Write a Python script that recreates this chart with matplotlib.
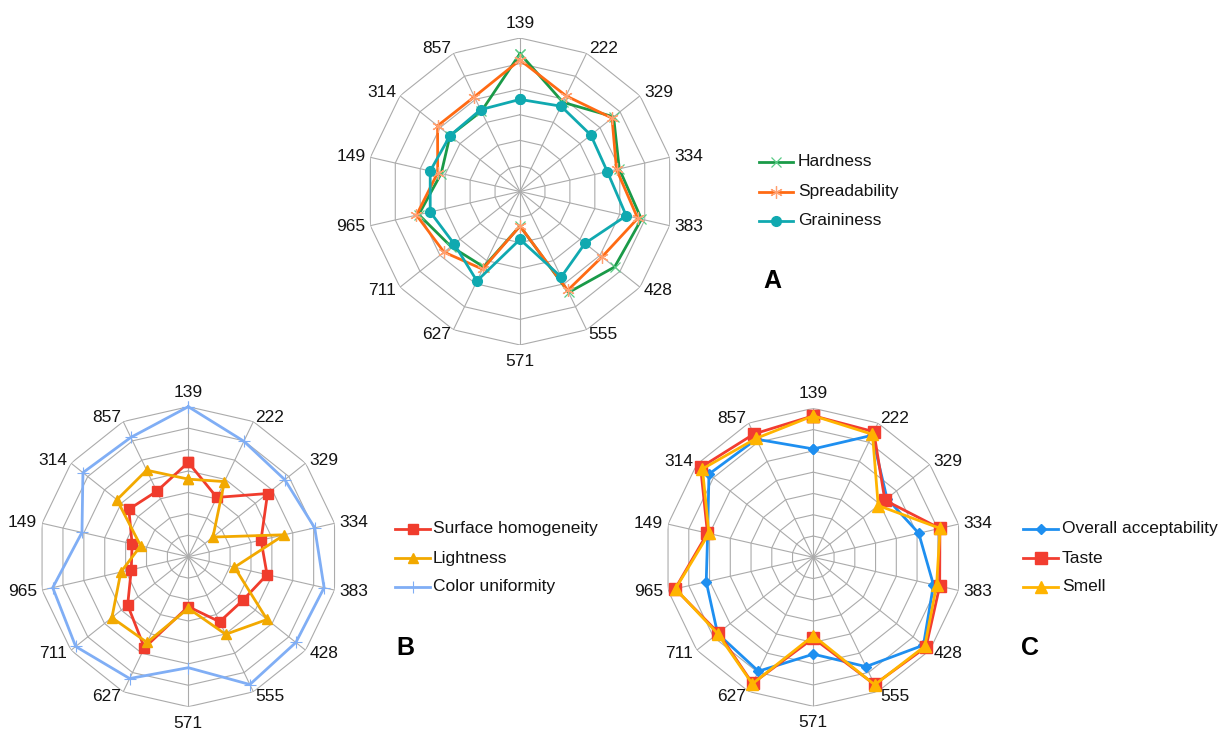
import numpy as np
import matplotlib
matplotlib.use("Agg")
import matplotlib.pyplot as plt
from matplotlib.lines import Line2D

plt.rcParams['font.family'] = ['Liberation Sans', 'DejaVu Sans']

categories = ['139', '222', '329', '334', '383', '428', '555', '571',
              '627', '711', '965', '149', '314', '857']

# Panel A
hardness = [5.39, 3.87, 4.68, 3.98, 4.87, 4.73, 4.38, 1.35, 3.27, 3.45, 4.06, 3.16, 3.50, 3.48]
spreadability = [5.14, 4.15, 4.60, 3.87, 4.72, 4.10, 4.29, 1.35, 3.37, 3.80, 4.15, 3.30, 4.12, 4.11]
graininess = [3.60, 3.70, 3.54, 3.50, 4.26, 3.25, 3.71, 1.87, 3.88, 3.29, 3.60, 3.60, 3.50, 3.55]

# Panel B
surface_homogeneity = [4.40, 3.07, 4.73, 3.48, 3.77, 3.26, 3.37, 2.33, 4.72, 3.62, 2.73, 2.69, 3.55, 3.39]
lightness = [3.62, 3.89, 1.47, 4.60, 2.21, 4.70, 4.02, 2.41, 4.44, 4.56, 3.23, 2.28, 4.26, 4.48]
color_uniformity = [7.00, 5.98, 5.76, 6.05, 6.50, 6.42, 6.62, 5.18, 6.31, 6.72, 6.49, 5.09, 6.29, 6.18]

# Panel C
overall_acceptability = [5.09, 6.36, 4.43, 5.08, 5.79, 6.62, 5.70, 4.55, 5.94, 5.75, 5.16, 5.09, 6.27, 6.16]
taste = [6.65, 6.55, 4.30, 6.10, 6.09, 6.77, 6.63, 3.80, 6.58, 5.70, 6.66, 5.10, 6.77, 6.43]
smell = [6.65, 6.41, 3.90, 6.11, 5.94, 6.70, 6.65, 3.68, 6.60, 5.75, 6.64, 5.03, 6.66, 6.20]

W, H = 1226, 732
fig = plt.figure(figsize=(W / 100, H / 100), dpi=100)

n = len(categories)
theta = np.linspace(0, 2 * np.pi, n, endpoint=False)
theta_c = np.append(theta, theta[0])

GRID = '#ababab'
LW = 2.0
FS = 12.5


def radar(cx, cy, R, rmax):
    ax = fig.add_axes([(cx - R) / W, (H - cy - R) / H, 2 * R / W, 2 * R / H],
                      projection='polar')
    ax.set_theta_zero_location('N')
    ax.set_theta_direction(-1)
    ax.set_ylim(0, rmax)
    ax.grid(False)
    ax.set_xticks([])
    ax.set_yticks([])
    ax.spines['polar'].set_visible(False)
    ax.patch.set_visible(False)
    for k in range(1, rmax + 1):
        ax.plot(theta_c, [k] * (n + 1), color=GRID, lw=0.8, zorder=1)
    for t in theta:
        ax.plot([t, t], [0, rmax], color=GRID, lw=0.8, zorder=1)
    for t, lab in zip(theta, categories):
        s, c = np.sin(t), np.cos(t)
        if abs(s) < 0.05:
            ha = 'center'
            if c > 0:
                va, off = 'bottom', (0, 7)
            else:
                va, off = 'top', (0, -9)
        else:
            ha = 'left' if s > 0 else 'right'
            va = 'center'
            off = (5 * s, 5 * c)
        ax.annotate(lab, xy=(t, rmax), xytext=off, textcoords='offset pixels',
                    ha=ha, va=va, fontsize=FS, color='#141414',
                    annotation_clip=False)
    return ax


def series(ax, vals, color, marker, ms, mec=None, mfc=None, mew=1.0, z=3):
    v = np.append(vals, vals[0])
    ax.plot(theta_c, v, color=color, lw=LW, marker=marker, ms=ms,
            mec=mec if mec else color, mfc=mfc if mfc else color,
            mew=mew, zorder=z, clip_on=False)


def legend(x0, x1, xt, ys, entries):
    for y, (lab, color, marker, ms, mec, mfc, mew) in zip(ys, entries):
        fx = np.array([x0, (x0 + x1) / 2, x1]) / W
        fy = np.array([H - y] * 3) / H
        ln = Line2D(fx, fy, transform=fig.transFigure, color=color, lw=LW,
                    marker=marker, markevery=[1], ms=ms,
                    mec=mec if mec else color, mfc=mfc if mfc else color, mew=mew)
        fig.add_artist(ln)
        fig.text(xt / W, (H - y) / H, lab, ha='left', va='center',
                 fontsize=FS, color='#141414')


STAR = (6, 2, 0)

# Panel A
c_h, c_s, c_g = '#1a9a48', '#ff6a13', '#10a9b0'
axA = radar(520, 191.5, 153.5, 6)
series(axA, hardness, c_h, 'x', 7, mec='#5acb86', mew=0.9, z=3)
series(axA, spreadability, c_s, STAR, 9, mec='#ffa070', mew=0.9, z=4)
series(axA, graininess, c_g, 'o', 7, z=5)
legend(759, 793, 798, [161.7, 191.7, 220.7], [
    ('Hardness', c_h, 'x', 7, '#5acb86', None, 0.9),
    ('Spreadability', c_s, STAR, 9, '#ffa070', None, 0.9),
    ('Graininess', c_g, 'o', 7, None, None, 1.0),
])
fig.text(772 / W, (H - 281) / H, 'A', ha='center', va='center',
         fontsize=18, fontweight='bold', color='black')

# Panel B
c_sh, c_l, c_cu = '#f03c2d', '#f2a900', '#80aef5'
axB = radar(188.3, 556.7, 150, 7)
series(axB, surface_homogeneity, c_sh, 's', 7, z=3)
series(axB, lightness, c_l, '^', 7.5, z=4)
series(axB, color_uniformity, c_cu, '+', 9, mew=0.8, z=5)
legend(395, 430, 433, [529, 558.3, 586.7], [
    ('Surface homogeneity', c_sh, 's', 7, None, None, 1.0),
    ('Lightness', c_l, '^', 7.5, None, None, 1.0),
    ('Color uniformity', c_cu, '+', 9, None, None, 0.8),
])
fig.text(405 / W, (H - 648) / H, 'B', ha='center', va='center',
         fontsize=18, fontweight='bold', color='black')

# Panel C
c_oa, c_t, c_sm = '#1e8ff0', '#f23d30', '#ffb400'
axC = radar(813.3, 557.3, 149, 7)
series(axC, overall_acceptability, c_oa, 'D', 5, z=3)
series(axC, taste, c_t, 's', 8, z=4)
series(axC, smell, c_sm, '^', 8.5, z=5)
legend(1023, 1058, 1062, [529, 558.3, 586.7], [
    ('Overall acceptability', c_oa, 'D', 5, None, None, 1.0),
    ('Taste', c_t, 's', 8, None, None, 1.0),
    ('Smell', c_sm, '^', 8.5, None, None, 1.0),
])
fig.text(1030 / W, (H - 648) / H, 'C', ha='center', va='center',
         fontsize=18, fontweight='bold', color='black')

fig.savefig('out.png', dpi=100)
